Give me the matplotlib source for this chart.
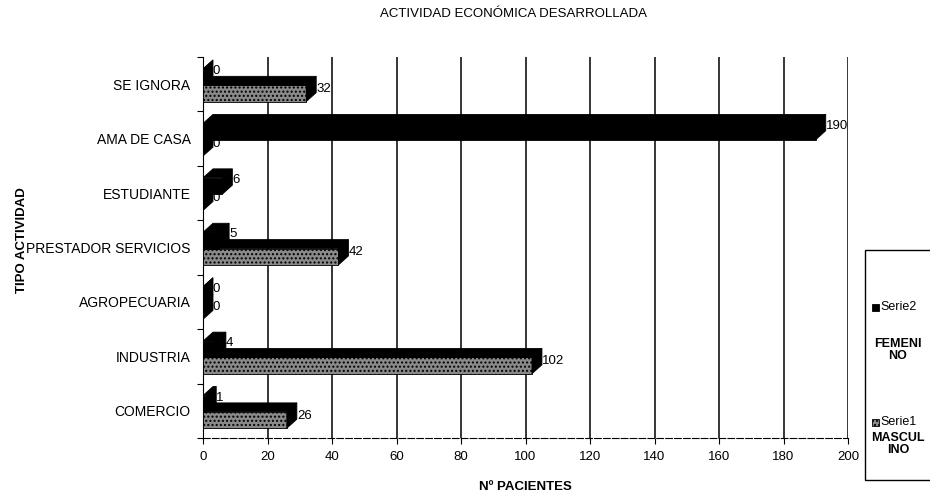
import matplotlib
matplotlib.use("Agg")
import matplotlib.pyplot as plt
from matplotlib.patches import Polygon, Rectangle

# data (bottom to top)
categories = ["COMERCIO", "INDUSTRIA", "AGROPECUARIA", "PRESTADOR SERVICIOS",
              "ESTUDIANTE", "AMA DE CASA", "SE IGNORA"]
serie1_masculino = [26, 102, 0, 42, 0, 0, 32]
serie2_femenino = [1, 4, 0, 5, 6, 190, 0]
x_ticks = [0, 20, 40, 60, 80, 100, 120, 140, 160, 180, 200]

plt.rcParams["font.family"] = ["Liberation Sans", "DejaVu Sans"]

W, H = 930, 494
fig = plt.figure(figsize=(W / 100, H / 100), dpi=100)

# axes box in pixels: x 203..848, y 57..438
ax = fig.add_axes([203 / W, (H - 438) / H, (848 - 203) / W, (438 - 57) / H])
ax.set_xlim(0, 200)
ax.set_ylim(-0.5, len(categories) - 0.5)

# fake 3D depth (about 10 px right, 9 px up)
dx = 3.1
dy = 0.165


def bar3d(v, y0, y1, front_kw):
    ax.add_patch(Rectangle((0, y0), v, y1 - y0, zorder=3, **front_kw))
    top = [(0, y1), (v, y1), (v + dx, y1 + dy), (dx, y1 + dy)]
    side = [(v, y0), (v, y1), (v + dx, y1 + dy), (v + dx, y0 + dy)]
    ax.add_patch(Polygon(top, closed=True, facecolor="black", edgecolor="black",
                         lw=0.6, zorder=3))
    ax.add_patch(Polygon(side, closed=True, facecolor="black", edgecolor="black",
                         lw=0.6, zorder=3))


s1_kw = dict(facecolor="#8a8a8a", edgecolor="black", hatch="....", lw=0.6)
s2_kw = dict(facecolor="black", edgecolor="black", lw=0.6)

for i, cat in enumerate(categories):
    v1 = serie1_masculino[i]
    v2 = serie2_femenino[i]
    bar3d(v1, i - 0.32, i - 0.02, s1_kw)
    bar3d(v2, i - 0.02, i + 0.28, s2_kw)
    ax.text(v1 + dx, i - 0.09, str(v1), fontsize=9.5, va="center", ha="left", zorder=4)
    ax.text(v2 + dx, i + 0.24, str(v2), fontsize=9.5, va="center", ha="left", zorder=4)

# vertical gridlines
ax.vlines(x_ticks[1:], -0.5, len(categories) - 0.5, colors="black", lw=1.1, zorder=1)

for side in ["top", "right"]:
    ax.spines[side].set_visible(False)
ax.spines["left"].set_linewidth(0.8)
ax.spines["bottom"].set_linewidth(0.8)
ax.spines["bottom"].set_linestyle((0, (6, 2)))

ax.set_xticks(x_ticks)
ax.set_xticklabels([str(t) for t in x_ticks], fontsize=9.5)
ax.tick_params(axis="x", length=4, width=0.8, pad=5)

ax.set_yticks(range(len(categories)))
ax.set_yticklabels(categories, fontsize=10)
ax.tick_params(axis="y", which="major", length=0, pad=9)
ax.set_yticks([i - 0.5 for i in range(len(categories) + 1)], minor=True)
ax.tick_params(axis="y", which="minor", length=4, width=0.8)

fig.text(513 / W, 1 - 14 / H, "ACTIVIDAD ECONÓMICA DESARROLLADA",
         ha="center", va="center", fontsize=9.5)
fig.text(22 / W, 1 - 240 / H, "TIPO ACTIVIDAD", rotation=90,
         ha="center", va="center", fontsize=9.5, fontweight="bold")
fig.text(525 / W, 1 - 487 / H, "Nº PACIENTES",
         ha="center", va="center", fontsize=9.5, fontweight="bold")

# legend box, cut off at the right edge like the scan
fig.patches.append(Rectangle((865 / W, 1 - 480 / H), 80 / W, 230 / H,
                             transform=fig.transFigure, facecolor="none",
                             edgecolor="black", lw=1))
fig.patches.append(Rectangle((872 / W, 1 - 311 / H), 7 / W, 7 / H,
                             transform=fig.transFigure, facecolor="black",
                             edgecolor="black", lw=0.6))
fig.text(880 / W, 1 - 307 / H, "Serie2", ha="left", va="center", fontsize=9)
fig.text(898 / W, 1 - 350 / H, "FEMENI\nNO", ha="center", va="center",
         fontsize=9, fontweight="bold", linespacing=1.0)
fig.patches.append(Rectangle((872 / W, 1 - 426 / H), 7 / W, 7 / H,
                             transform=fig.transFigure, facecolor="#8a8a8a",
                             edgecolor="black", hatch="....", lw=0.6))
fig.text(880 / W, 1 - 422 / H, "Serie1", ha="left", va="center", fontsize=9)
fig.text(898 / W, 1 - 444 / H, "MASCUL\nINO", ha="center", va="center",
         fontsize=9, fontweight="bold", linespacing=1.0)

fig.savefig("out.png", dpi=100)
plt.close(fig)
